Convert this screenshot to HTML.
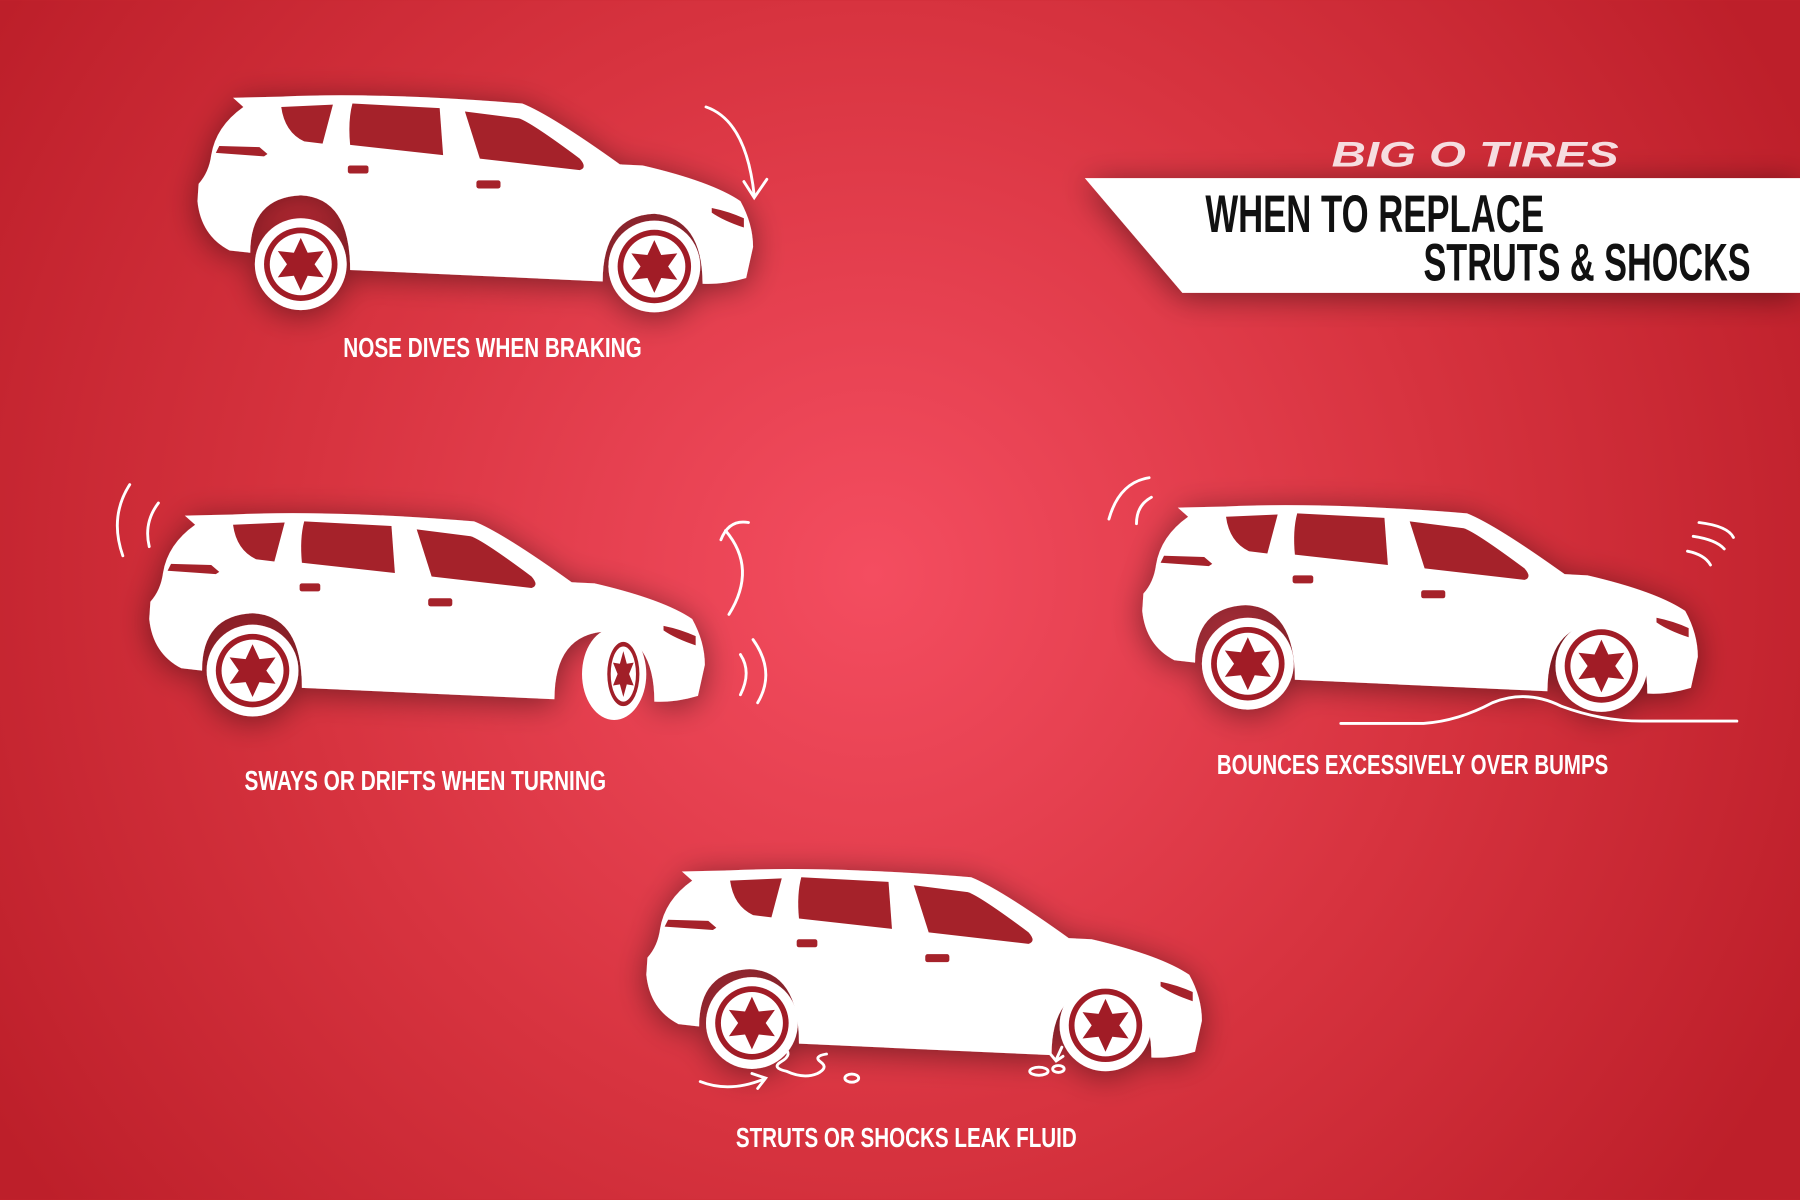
<!DOCTYPE html>
<html><head><meta charset="utf-8"><style>
html,body{margin:0;padding:0;width:1800px;height:1200px;overflow:hidden;background:#c9262f}
svg{display:block}
.lbl{font-family:"Liberation Sans Narrow","Liberation Sans",sans-serif;font-weight:bold;fill:#fff}
</style></head><body>
<svg width="1800" height="1200" viewBox="0 0 1568 1045" xmlns="http://www.w3.org/2000/svg">
<defs>
<radialGradient id="bg" cx="760" cy="500" r="900" gradientUnits="userSpaceOnUse">
<stop offset="0" stop-color="#f44d60"/><stop offset="0.55" stop-color="#d7333f"/><stop offset="1" stop-color="#bd1f2a"/>
</radialGradient>
<filter id="sh" x="-20%" y="-30%" width="140%" height="160%">
<feGaussianBlur in="SourceAlpha" stdDeviation="14"/><feOffset dx="0" dy="4"/>
<feComponentTransfer><feFuncA type="linear" slope="0.45"/></feComponentTransfer>
<feMerge><feMergeNode/><feMergeNode in="SourceGraphic"/></feMerge>
</filter>
<g id="wheel">
<circle r="40" fill="#fff"/><circle r="32" fill="#a11f28"/><circle r="27" fill="#fff"/>
<polygon fill="#a11f28" points="0,-23 6,-10 20,-11.5 12,0 20,11.5 6,10 0,23 -6,10 -20,11.5 -12,0 -20,-11.5 -6,-10"/>
</g>
<g id="body">
<path fill="#fff" d="M203,85 L245,84 Q330,80 455,90 Q480,100 540,143 L560,144 Q620,158 645,175 Q656,195 656,215 L650,242 Q630,248 612,247 Q612,190 570,186 Q525,188 525,245 L305,235 Q305,172 262,170 Q218,172 218,220 L200,218 Q175,205 172,175 L173,160 Q182,150 184,135 Q188,110 212,93 Z"/>
<g fill="#a52129">
<path d="M245,93 L290,91 L281,125 L265,123 Q248,115 245,93 Z"/>
<path d="M307,90 L383,94 L386,135 L305,126 Q303,105 307,90 Z"/>
<path d="M405,97 L452,103 Q462,106 505,138 Q512,146 505,148 L418,138 Z"/>
<path d="M191,127 L226,128 L233,134 L230,136 L188,133 Z"/>
<rect x="303" y="144" width="18" height="7" rx="2"/>
<rect x="415" y="157" width="21" height="7" rx="2"/>
<path d="M620,181 Q635,184 648,190 L648,198 Q630,192 620,185 Z"/>
</g>
</g>
<g id="wheels">
<use href="#wheel" x="262" y="230"/>
<use href="#wheel" x="570" y="232"/>
</g>
</defs>
<rect width="1568" height="1045" fill="url(#bg)"/>

<g filter="url(#sh)"><use href="#body"/><use href="#wheels"/></g>
<g filter="url(#sh)"><use href="#body" transform="translate(-42,364)"/><use href="#wheel" x="220" y="584"/></g>
<g filter="url(#sh)"><use href="#body" transform="translate(823,357)"/><use href="#wheels" transform="translate(825,348)"/></g>
<g filter="url(#sh)"><use href="#body" transform="translate(391,674)"/><use href="#wheels" transform="translate(393,661)"/></g>

<!-- turned wheel car2 -->
<ellipse cx="535" cy="587" rx="28" ry="40" fill="#fff"/>
<ellipse cx="543" cy="587" rx="14" ry="28" fill="#a11f28"/>
<ellipse cx="543" cy="587" rx="11" ry="24" fill="#fff"/>
<polygon fill="#a11f28" points="543,567 546,578 552,577 548,587 552,597 546,596 543,607 540,596 534,597 538,587 534,577 540,578"/>

<g fill="none" stroke="#fff" stroke-width="2.5" stroke-linecap="round">
<path d="M615,93 Q650,105 657,170"/><path d="M648,158 L657,172 L668,156"/>
<path d="M113,422 Q95,450 107,484"/><path d="M138,438 Q125,455 130,476"/>
<path d="M632,462 Q660,495 635,535"/><path d="M628,470 Q635,452 652,455"/>
<path d="M645,570 Q655,585 645,605"/><path d="M656,557 Q676,585 660,612"/>
<path d="M1001,416 Q975,420 966,452"/><path d="M1003,433 Q990,440 990,456"/>
<path d="M1480,455 Q1505,458 1510,468"/><path d="M1475,467 Q1495,470 1502,478"/><path d="M1470,480 Q1485,483 1490,492"/>
<path d="M1168,630 L1240,630 Q1270,628 1300,612 Q1330,600 1360,615 Q1395,628 1430,628 L1513,628"/>
<path d="M610,942 Q635,952 665,940"/><path d="M655,935 L667,939 L660,948"/>
<path d="M682,912 Q692,918 680,925 Q672,930 685,933 Q700,940 712,935 Q722,930 715,925 Q708,920 720,918"/>
<ellipse cx="742" cy="939" rx="6" ry="3.5"/>
<ellipse cx="905" cy="933" rx="8" ry="3.5"/><ellipse cx="922" cy="931" rx="5" ry="3"/>
<path d="M925,912 L920,923"/><path d="M915,918 L920,924 L926,920"/>
</g>

<polygon points="945,155 1568,155 1568,255 1030,255" fill="#fff" filter="url(#sh)"/>
<text x="1160" y="145" font-family="Liberation Sans,sans-serif" font-weight="bold" font-style="italic" font-size="31" fill="#f6dde0" textLength="250" lengthAdjust="spacingAndGlyphs">BIG O TIRES</text>
<text x="1050" y="202" font-family="Liberation Sans Narrow,Liberation Sans,sans-serif" font-weight="bold" font-size="46" fill="#111" textLength="295" lengthAdjust="spacingAndGlyphs">WHEN TO REPLACE</text>
<text x="1240" y="244" font-family="Liberation Sans Narrow,Liberation Sans,sans-serif" font-weight="bold" font-size="46" fill="#111" textLength="285" lengthAdjust="spacingAndGlyphs">STRUTS &amp; SHOCKS</text>

<text class="lbl" x="299" y="311" font-size="24" textLength="260" lengthAdjust="spacingAndGlyphs">NOSE DIVES WHEN BRAKING</text>
<text class="lbl" x="213" y="688" font-size="24" textLength="315" lengthAdjust="spacingAndGlyphs">SWAYS OR DRIFTS WHEN TURNING</text>
<text class="lbl" x="1060" y="674" font-size="24" textLength="341" lengthAdjust="spacingAndGlyphs">BOUNCES EXCESSIVELY OVER BUMPS</text>
<text class="lbl" x="641" y="999" font-size="24" textLength="297" lengthAdjust="spacingAndGlyphs">STRUTS OR SHOCKS LEAK FLUID</text>
</svg>
</body></html>
